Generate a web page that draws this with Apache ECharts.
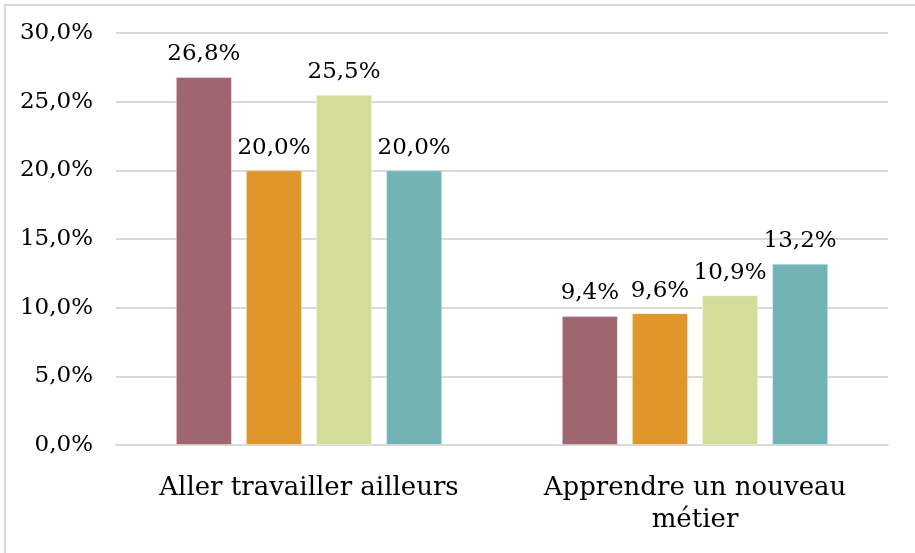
<!DOCTYPE html>
<html>
<head>
<meta charset="utf-8">
<script src="https://cdn.jsdelivr.net/npm/echarts@6/dist/echarts.min.js"></script>
<style>
  html, body { margin: 0; padding: 0; background: #fff; overflow: hidden; }
  #frame { position: absolute; left: 4px; top: 4px; width: 1000px; height: 1000px; border-left: 2px solid #d9d9d9; border-top: 2px solid #d9d9d9; }
  #chart { position: absolute; left: 0; top: 0; width: 915px; height: 553px; }
</style>
</head>
<body>
<div id="frame"></div>
<div id="chart"></div>
<script>
// categories and values (percent)
var categories = ['Aller travailler ailleurs', 'Apprendre un nouveau\nmétier'];
var serie1 = [26.8, 9.4];
var serie2 = [20.0, 9.6];
var serie3 = [25.5, 10.9];
var serie4 = [20.0, 13.2];
var colors = ['#a0666f', '#e0972a', '#d3dc98', '#72b4b6'];

var fontFam = 'DejaVu Serif';

function fmt(v) {
  return v.toFixed(1).replace('.', ',') + '%';
}

var chart = echarts.init(document.getElementById('chart'));

var labelStyle = {
  show: true,
  position: 'top',
  distance: 11,
  color: '#000',
  fontFamily: fontFam,
  fontSize: 23,
  formatter: function (p) { return fmt(p.value); }
};

function makeSeries(name, data, i) {
  return {
    name: name,
    type: 'bar',
    data: data,
    barGap: '25%',
    barCategoryGap: '31%',
    itemStyle: { color: colors[i], borderColor: 'rgba(255,255,255,0.35)', borderWidth: 1 },
    label: labelStyle
  };
}

var option = {
  animation: false,
  grid: { left: 116, right: 27, top: 33, bottom: 108 },
  xAxis: {
    type: 'category',
    data: categories,
    axisTick: { show: false },
    axisLine: { lineStyle: { color: '#d9d9d9', width: 2 } },
    axisLabel: {
      color: '#000',
      fontFamily: fontFam,
      fontSize: 26,
      lineHeight: 32,
      margin: 27,
      interval: 0
    }
  },
  yAxis: {
    type: 'value',
    min: 0,
    max: 30,
    interval: 5,
    axisLine: { show: false },
    axisTick: { show: false },
    splitLine: { lineStyle: { color: '#d9d9d9', width: 2 } },
    axisLabel: {
      color: '#000',
      fontFamily: fontFam,
      fontSize: 23,
      margin: 23,
      formatter: function (v) { return fmt(v); }
    }
  },
  series: [
    makeSeries('s1', serie1, 0),
    makeSeries('s2', serie2, 1),
    makeSeries('s3', serie3, 2),
    makeSeries('s4', serie4, 3)
  ]
};

chart.setOption(option);
</script>
</body>
</html>
